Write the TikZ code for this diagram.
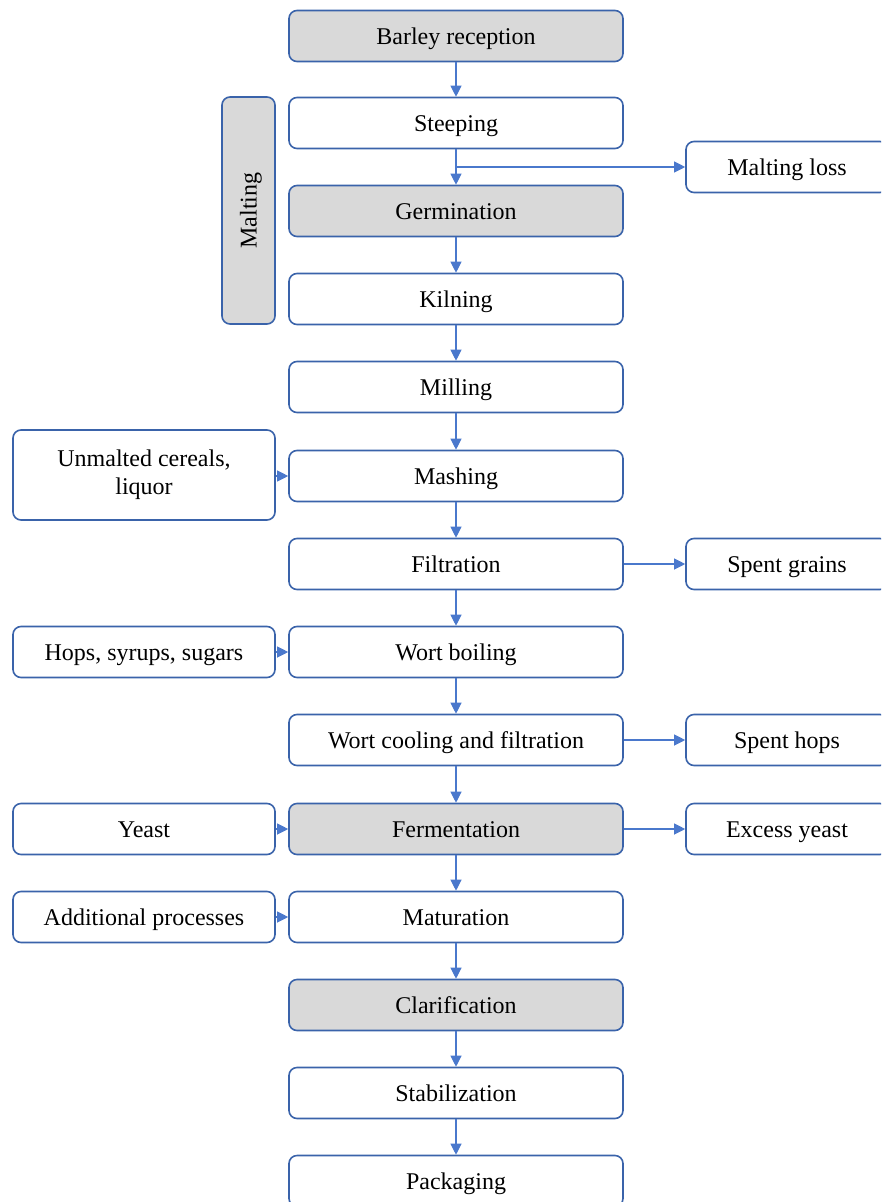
\documentclass[tikz,border=0pt]{standalone}
\usepackage{fontspec}
\setmainfont{Liberation Serif}
\usetikzlibrary{arrows.meta}
\definecolor{boxblue}{HTML}{3A63AA}
\definecolor{arrowblue}{HTML}{4A78CC}
\definecolor{stepgray}{HTML}{D9D9D9}
\begin{document}
\begin{tikzpicture}[x=1pt, y=-1pt,
    proc/.style={draw=boxblue, line width=1.6pt, rounded corners=8pt, fill=white,
      minimum width=334pt, minimum height=51pt, inner sep=0pt,
      text height=16pt, text depth=0pt,
      font=\fontsize{24}{28}\selectfont, align=center},
    grayproc/.style={proc, fill=stepgray},
    side/.style={proc, minimum width=262pt},
    waste/.style={proc, minimum width=202pt},
    flow/.style={draw=arrowblue, line width=1.1pt, -{Triangle[length=11pt, width=11pt]}}]
    \useasboundingbox (0,0) rectangle (881,1202);
    \clip (0,0) rectangle (881,1202);

    \node[grayproc] (reception) at (456, 36) {Barley reception};
    \node[proc] (steeping) at (456, 123) {Steeping};
    \node[grayproc] (germination) at (456, 211) {Germination};
    \node[proc] (kilning) at (456, 299) {Kilning};
    \node[proc] (milling) at (456, 387) {Milling};
    \node[proc] (mashing) at (456, 476) {Mashing};
    \node[proc] (filtration) at (456, 564) {Filtration};
    \node[proc] (boiling) at (456, 652) {Wort boiling};
    \node[proc] (cooling) at (456, 740) {Wort cooling and filtration};
    \node[grayproc] (fermentation) at (456, 829) {Fermentation};
    \node[proc] (maturation) at (456, 917) {Maturation};
    \node[grayproc] (clarification) at (456, 1005) {Clarification};
    \node[proc] (stabilization) at (456, 1093) {Stabilization};
    \node[proc] (packaging) at (456, 1181) {Packaging};

    \node[grayproc, minimum width=53pt, minimum height=227pt] (malting) at (248.5, 210.5) {};
    \node[rotate=90, font=\fontsize{24}{28}\selectfont] (maltlabel) at (251, 210.5) {Malting};

    \node[side, minimum height=90pt, text height=, text depth=] (cereals) at (144, 475) {Unmalted cereals,\\liquor};
    \node[side] (hops) at (144, 652) {Hops, syrups, sugars};
    \node[side] (yeast) at (144, 829) {Yeast};
    \node[side] (additional) at (144, 917) {Additional processes};

    \node[waste] (loss) at (787, 167) {Malting loss};
    \node[waste] (grains) at (787, 564) {Spent grains};
    \node[waste] (spenthops) at (787, 740) {Spent hops};
    \node[waste] (excess) at (787, 829) {Excess yeast};

    \draw[flow] (reception) -- (steeping);
    \draw[flow] (steeping) -- (germination);
    \draw[flow] (germination) -- (kilning);
    \draw[flow] (kilning) -- (milling);
    \draw[flow] (milling) -- (mashing);
    \draw[flow] (mashing) -- (filtration);
    \draw[flow] (filtration) -- (boiling);
    \draw[flow] (boiling) -- (cooling);
    \draw[flow] (cooling) -- (fermentation);
    \draw[flow] (fermentation) -- (maturation);
    \draw[flow] (maturation) -- (clarification);
    \draw[flow] (clarification) -- (stabilization);
    \draw[flow] (stabilization) -- (packaging);

    \coordinate (split) at (456, 167);
    \draw[flow] (split) -- (loss.west);
    \draw[flow] (filtration) -- (grains);
    \draw[flow] (cooling) -- (spenthops);
    \draw[flow] (fermentation) -- (excess);

    \draw[flow] (cereals.east |- mashing) -- (mashing);
    \draw[flow] (hops) -- (boiling);
    \draw[flow] (yeast) -- (fermentation);
    \draw[flow] (additional) -- (maturation);
  \end{tikzpicture}
\end{document}
